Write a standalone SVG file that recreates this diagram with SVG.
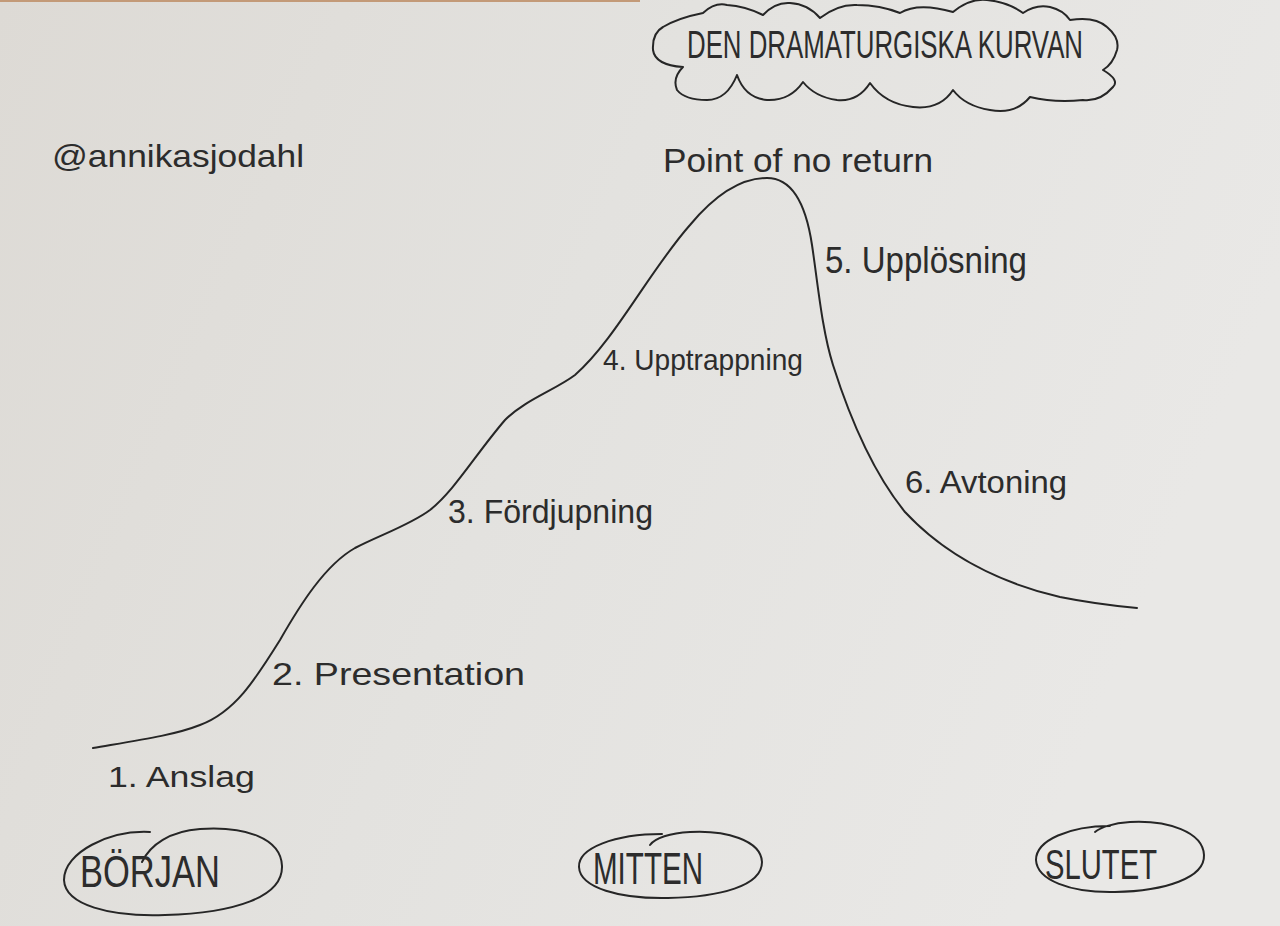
<svg xmlns="http://www.w3.org/2000/svg" width="1280" height="926" viewBox="0 0 1280 926">
<defs>
<linearGradient id="paper" x1="0" y1="0" x2="1" y2="0.3">
<stop offset="0" stop-color="#dddad5"/>
<stop offset="0.5" stop-color="#e3e2df"/>
<stop offset="1" stop-color="#e9e8e6"/>
</linearGradient>
<style>
.ink{fill:none;stroke:#262626;stroke-width:2;stroke-linecap:round;stroke-linejoin:round}
.hand{font-family:"Liberation Sans Narrow","Liberation Sans",sans-serif;fill:#2c2c2c;font-weight:normal}
</style>
</defs>
<rect x="0" y="0" width="1280" height="926" fill="url(#paper)"/>
<rect x="0" y="0" width="640" height="2" fill="#c39a78"/>

<g id="title">
<path class="ink" d="M703,13 Q715,2 727,5 Q745,6 763,15 Q775,2 790,3 Q808,4 820,18 Q838,4 857,5 Q880,5 900,13 Q918,2 953,12 Q970,-2 987,0 Q1008,2 1023,13 Q1036,4 1050,7 Q1063,10 1070,20 Q1095,16 1107,27 Q1120,38 1117,50 Q1113,64 1103,70 Q1120,80 1113,87 Q1100,102 1083,100 Q1055,103 1030,97 Q1015,115 990,110 Q965,106 953,90 Q940,110 913,107 Q885,104 870,83 Q858,102 837,100 Q815,97 803,82 Q790,101 767,100 Q745,98 737,75 Q727,100 707,100 Q685,100 677,90 Q672,78 683,67 Q655,65 653,50 Q652,33 663,27 Q678,18 703,13"/>
<text class="hand" x="687" y="58" font-size="38" textLength="396" lengthAdjust="spacingAndGlyphs">DEN DRAMATURGISKA KURVAN</text>
</g>

<g id="author">
<text class="hand" x="52" y="167" font-size="32" textLength="252" lengthAdjust="spacingAndGlyphs">@annikasjodahl</text>
</g>

<g id="connectors">
<path class="ink" d="M93,748 C140,740 175,735 200,725 C235,712 255,680 280,640 C300,605 325,565 355,548 C380,535 410,525 430,510 C455,490 475,455 505,420 C525,400 555,390 575,375 C615,340 650,270 690,225 C715,195 740,178 767,178 C792,178 806,205 812,245 C818,285 822,330 833,365 C852,425 875,475 905,512 C945,555 1000,583 1060,597 C1090,603 1115,606 1137,608"/>
</g>

<g id="peak">
<text class="hand" x="663" y="172" font-size="34" textLength="270" lengthAdjust="spacingAndGlyphs">Point of no return</text>
</g>

<g id="stage1">
<text class="hand" x="108" y="787" font-size="30" textLength="147" lengthAdjust="spacingAndGlyphs">1. Anslag</text>
</g>
<g id="stage2">
<text class="hand" x="272" y="685" font-size="32" textLength="253" lengthAdjust="spacingAndGlyphs">2. Presentation</text>
</g>
<g id="stage3">
<text class="hand" x="448" y="523" font-size="34" textLength="205" lengthAdjust="spacingAndGlyphs">3. Fördjupning</text>
</g>
<g id="stage4">
<text class="hand" x="603" y="370" font-size="30" textLength="200" lengthAdjust="spacingAndGlyphs">4. Upptrappning</text>
</g>
<g id="stage5">
<text class="hand" x="825" y="273" font-size="36" textLength="202" lengthAdjust="spacingAndGlyphs">5. Upplösning</text>
</g>
<g id="stage6">
<text class="hand" x="905" y="493" font-size="32" textLength="162" lengthAdjust="spacingAndGlyphs">6. Avtoning</text>
</g>

<g id="borjan">
<path class="ink" d="M150,832 C110,830 64,852 64,880 C65,905 110,917 165,915 C235,913 283,897 282,866 C281,838 245,826 200,829 C170,831 150,845 142,862"/>
<text class="hand" x="80" y="887" font-size="44" textLength="140" lengthAdjust="spacingAndGlyphs">BÖRJAN</text>
</g>
<g id="mitten">
<path class="ink" d="M662,834 C615,834 578,848 579,867 C580,888 620,899 668,898 C720,897 762,886 762,862 C761,840 725,830 690,832 C670,833 655,838 650,845"/>
<text class="hand" x="593" y="884" font-size="44" textLength="110" lengthAdjust="spacingAndGlyphs">MITTEN</text>
</g>
<g id="slutet">
<path class="ink" d="M1110,826 C1070,826 1036,840 1036,860 C1037,880 1070,893 1115,892 C1165,891 1205,878 1204,855 C1203,832 1168,820 1130,822 C1112,823 1100,828 1095,832"/>
<text class="hand" x="1045" y="879" font-size="42" textLength="112" lengthAdjust="spacingAndGlyphs">SLUTET</text>
</g>
</svg>
